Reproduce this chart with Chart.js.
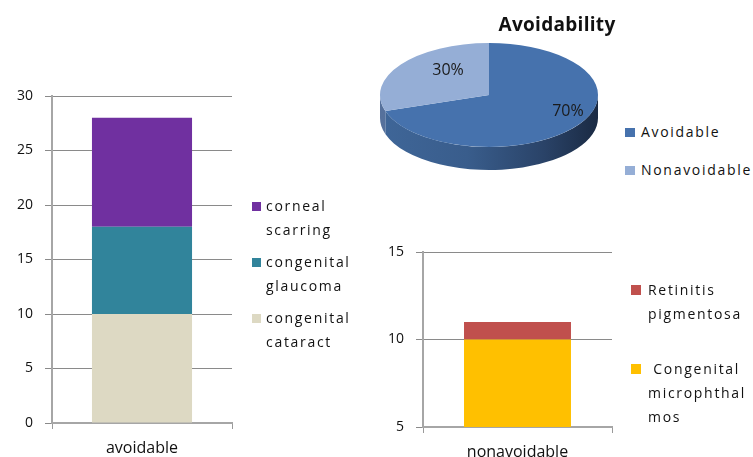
<!DOCTYPE html>
<html>
<head>
<meta charset="utf-8">
<script src="https://cdn.jsdelivr.net/npm/chart.js@4.4.0/dist/chart.umd.min.js"></script>
<style>
  body { margin: 0; background: #fff; width: 753px; height: 457px; position: relative; overflow: hidden;
         font-family: 'Open Sans', sans-serif; color: #111; }
  canvas, .legend, .title { position: absolute; }
  #avoidChart { left: 0; top: 0; }
  #pieChart { left: 370px; top: 0; }
  #nonChart { left: 360px; top: 220px; }
  .title { left: 492px; width: 130px; top: 11px; text-align: center; font-weight: bold; font-size: 19px; letter-spacing: 0.3px; }
  .legend { font-size: 14px; letter-spacing: 1.7px; line-height: 24px; }
  .legend .item { position: relative; padding-left: 14px; }
  .legend .box { position: absolute; left: 0; top: 8px; width: 9px; height: 9px; }
  #avoidLegend { left: 252px; top: 194px; width: 110px; }
  #avoidLegend .item { margin-bottom: 8px; }
  #pieLegend { left: 625px; top: 120px; white-space: nowrap; }
  #pieLegend .item { padding-left: 16px; margin-bottom: 14px; }
  #pieLegend .box { width: 10px; }
  #nonLegend { left: 631px; top: 278px; width: 122px; }
  #nonLegend .item { padding-left: 17px; white-space: pre-wrap; overflow-wrap: anywhere; margin-bottom: 31px; }
  #nonLegend .box { width: 10px; height: 10px; top: 7px; }
</style>
</head>
<body>
<canvas id="avoidChart" width="245" height="457"></canvas>
<canvas id="pieChart" width="240" height="240"></canvas>
<canvas id="nonChart" width="262" height="237"></canvas>
<div class="title">Avoidability</div>
<div class="legend" id="avoidLegend"></div>
<div class="legend" id="pieLegend"></div>
<div class="legend" id="nonLegend"></div>
<script>
// left chart: avoidable causes
const avoidableCategories = ['avoidable'];
const congenitalCataract = [10];
const congenitalGlaucoma = [8];
const cornealScarring = [10];
const avoidableTicks = [0, 5, 10, 15, 20, 25, 30];

// bottom right chart: non avoidable causes
const nonavoidableCategories = ['nonavoidable'];
const congenitalMicrophthalmos = [10];
const retinitisPigmentosa = [1];
const nonavoidableTicks = [5, 10, 15];

// pie
const pieLabels = ['Avoidable', 'Nonavoidable'];
const pieValues = [70, 30];

const baseFont = 'Open Sans';

function barOptions(ticks, axisWidth, axisHeight, padding, barPct) {
  return {
    responsive: false,
    animation: false,
    devicePixelRatio: 1,
    layout: { padding: padding },
    plugins: { legend: { display: false }, tooltip: { enabled: false } },
    datasets: { bar: { barPercentage: barPct, categoryPercentage: 1 } },
    scales: {
      x: {
        stacked: true,
        offset: true,
        grid: { drawOnChartArea: false, tickLength: 6, color: '#9a9a9a', offset: true },
        border: { color: '#a6a6a6', width: 2 },
        ticks: { color: '#111', font: { family: baseFont, size: 16 }, padding: 10 },
        afterFit: (s) => { s.height = axisHeight; },
      },
      y: {
        stacked: true,
        min: ticks[0],
        max: ticks[ticks.length - 1],
        afterBuildTicks: (s) => { s.ticks = ticks.map((v) => ({ value: v })); },
        grid: { color: '#8a8a8a', tickLength: 7 },
        border: { color: '#a6a6a6', width: 2 },
        ticks: { color: '#111', font: { family: baseFont, size: 14 }, padding: 12 },
        afterFit: (s) => { s.width = axisWidth; },
      },
    },
  };
}

function buildLegend(id, items) {
  const el = document.getElementById(id);
  items.forEach((it) => {
    const row = document.createElement('div');
    row.className = 'item';
    const box = document.createElement('span');
    box.className = 'box';
    box.style.background = it.color;
    row.appendChild(box);
    row.appendChild(document.createTextNode(it.label));
    el.appendChild(row);
  });
}

const avoidChart = new Chart(document.getElementById('avoidChart'), {
  type: 'bar',
  data: {
    labels: avoidableCategories,
    datasets: [
      { label: 'congenital cataract', data: congenitalCataract, backgroundColor: '#DDD9C3' },
      { label: 'congenital glaucoma', data: congenitalGlaucoma, backgroundColor: '#31849B' },
      { label: 'corneal scarring', data: cornealScarring, backgroundColor: '#7030A0' },
    ],
  },
  options: barOptions(avoidableTicks, 52, 34, { top: 96, right: 13, left: 0, bottom: 0 }, 0.556),
});

const nonChart = new Chart(document.getElementById('nonChart'), {
  type: 'bar',
  data: {
    labels: nonavoidableCategories,
    datasets: [
      { label: ' Congenital microphthalmos', data: congenitalMicrophthalmos, backgroundColor: '#FFC000' },
      { label: 'Retinitis pigmentosa', data: retinitisPigmentosa, backgroundColor: '#C0504D' },
    ],
  },
  options: barOptions(nonavoidableTicks, 63, 30, { top: 32, right: 10, left: 0, bottom: 0 }, 0.566),
});

// flatten the pie into an ellipse and give it a side wall
const tilt = { cx: 119, cy: 95, squash: 52 / 109, depth: 23, labelShift: 19 };
const sideStops = [
  [[0, '#3f6698'], [0.4, '#395d8c'], [0.75, '#2a4368'], [1, '#1a2a43']],
  [[0, '#56719c'], [1, '#4a6590']],
];

const tiltPlugin = {
  id: 'tilt',
  beforeDatasetsDraw(chart) {
    const ctx = chart.ctx;
    const arcs = chart.getDatasetMeta(0).data;
    const c = arcs[0];
    ctx.save();
    ctx.translate(tilt.cx, tilt.cy);
    ctx.scale(1, tilt.squash);
    ctx.translate(-c.x, -c.y);
    const d = tilt.depth / tilt.squash;
    arcs.forEach((a, i) => {
      const s = Math.max(a.startAngle, 0);
      const e = Math.min(a.endAngle, Math.PI);
      if (e <= s) return;
      const grad = ctx.createLinearGradient(a.x - a.outerRadius, 0, a.x + a.outerRadius, 0);
      sideStops[i].forEach((st) => grad.addColorStop(st[0], st[1]));
      ctx.beginPath();
      ctx.arc(a.x, a.y, a.outerRadius, s, e);
      ctx.arc(a.x, a.y + d, a.outerRadius, e, s, true);
      ctx.closePath();
      ctx.fillStyle = grad;
      ctx.fill();
    });
  },
  afterDatasetsDraw(chart) {
    const ctx = chart.ctx;
    ctx.restore();
    const arcs = chart.getDatasetMeta(0).data;
    const total = pieValues.reduce((p, v) => p + v, 0);
    ctx.save();
    ctx.fillStyle = '#1a1a1a';
    ctx.font = '16px "' + baseFont + '"';
    ctx.textAlign = 'center';
    ctx.textBaseline = 'middle';
    arcs.forEach((a, i) => {
      const mid = (a.startAngle + a.endAngle) / 2;
      const r = a.outerRadius * 0.68;
      const x = tilt.cx + Math.cos(mid) * r + tilt.labelShift;
      const y = tilt.cy + Math.sin(mid) * r * tilt.squash - 4;
      ctx.fillText(Math.round(pieValues[i] / total * 100) + '%', x, y);
    });
    ctx.restore();
  },
};

const pieChart = new Chart(document.getElementById('pieChart'), {
  type: 'pie',
  data: {
    labels: pieLabels,
    datasets: [{ data: pieValues, backgroundColor: ['#4672AD', '#95AED6'], borderWidth: 0 }],
  },
  options: {
    responsive: false,
    animation: false,
    devicePixelRatio: 1,
    layout: { padding: 11 },
    plugins: { legend: { display: false }, tooltip: { enabled: false } },
  },
  plugins: [tiltPlugin],
});

buildLegend('avoidLegend', avoidChart.data.datasets.slice().reverse()
  .map((ds) => ({ label: ds.label, color: ds.backgroundColor })));
buildLegend('nonLegend', nonChart.data.datasets.slice().reverse()
  .map((ds) => ({ label: ds.label, color: ds.backgroundColor })));
buildLegend('pieLegend', pieLabels.map((l, i) => ({ label: l, color: pieChart.data.datasets[0].backgroundColor[i] })));
</script>
</body>
</html>
